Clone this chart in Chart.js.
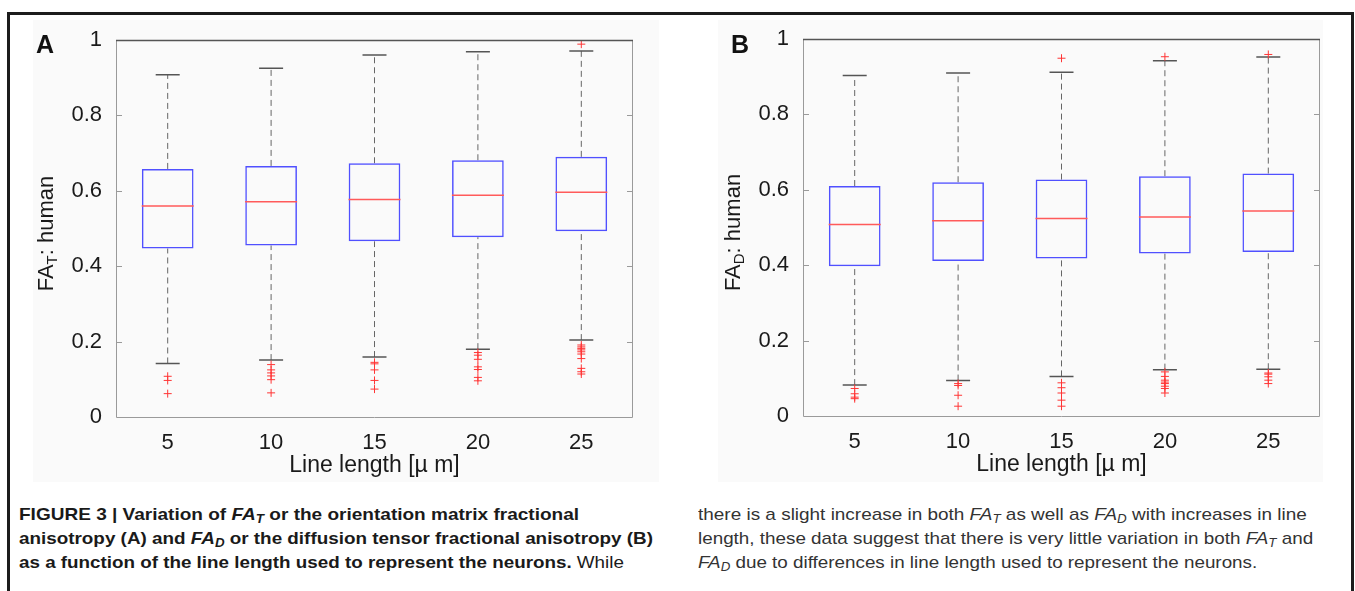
<!DOCTYPE html>
<html>
<head>
<meta charset="utf-8">
<script src="https://cdn.jsdelivr.net/npm/chart.js@4.4.1/dist/chart.umd.min.js"></script>
<style>
body { margin: 0; background: #fff; }
#page { position: relative; width: 1355px; height: 591px; overflow: hidden; font-family: "Liberation Sans", Arial, sans-serif; color: #1a1a1a; }
#frame { position: absolute; left: 7px; top: 12px; width: 1347px; height: 700px; box-sizing: border-box; border: 3px solid #1c1c1c; border-bottom: none; }
.bg { position: absolute; background: #fafafa; }
canvas { position: absolute; }
.panel { position: absolute; font-weight: bold; font-size: 25px; line-height: 25px; color: #111; }
.cap { position: absolute; top: 503px; font-size: 17px; line-height: 24px; }
.ln { white-space: nowrap; width: max-content; transform-origin: 0 0; }
.cap sub { font-size: 12px; vertical-align: -3px; line-height: 0; }
#capR { color: #333; }
</style>
</head>
<body>
<div id="page">
  <div id="frame"></div>
  <div class="bg" style="left:33px;top:20px;width:626px;height:462px"></div>
  <div class="bg" style="left:718px;top:20px;width:605px;height:462px"></div>
  <canvas id="chartA" width="640" height="459" style="left:25px;top:20px"></canvas>
  <canvas id="chartB" width="640" height="459" style="left:712px;top:19px"></canvas>
  <div class="panel" style="left:36px;top:32px">A</div>
  <div class="panel" style="left:731px;top:32px">B</div>
  <div class="cap" id="capL" style="left:19px">
    <div class="ln" data-w="560"><b>FIGURE 3 | Variation of <i>FA<sub>T</sub></i> or the orientation matrix fractional</b></div>
    <div class="ln" data-w="634"><b>anisotropy (A) and <i>FA<sub>D</sub></i> or the diffusion tensor fractional anisotropy (B)</b></div>
    <div class="ln" data-w="605"><b>as a function of the line length used to represent the neurons.</b> While</div>
  </div>
  <div class="cap" id="capR" style="left:698px">
    <div class="ln" data-w="609">there is a slight increase in both <i>FA<sub>T</sub></i> as well as <i>FA<sub>D</sub></i> with increases in line</div>
    <div class="ln" data-w="615">length, these data suggest that there is very little variation in both <i>FA<sub>T</sub></i> and</div>
    <div class="ln" data-w="559"><i>FA<sub>D</sub></i> due to differences in line length used to represent the neurons.</div>
  </div>
</div>
<script>
// line length categories
var labels = ['5', '10', '15', '20', '25'];
var yTickLabels = ['0', '0.2', '0.4', '0.6', '0.8', '1'];
var xTitle = 'Line length [\u00b5 m]';

// panel A: FA_T
var aQ1 = [0.447, 0.455, 0.466, 0.477, 0.493];
var aMed = [0.560, 0.571, 0.577, 0.588, 0.596];
var aQ3 = [0.658, 0.666, 0.673, 0.681, 0.690];
var aHi = [0.908, 0.925, 0.960, 0.969, 0.971];
var aLo = [0.142, 0.151, 0.159, 0.180, 0.204];
var aOut = [
  [0.108, 0.097, 0.062],
  [0.139, 0.125, 0.117, 0.109, 0.099, 0.064],
  [0.145, 0.141, 0.125, 0.097, 0.074],
  [0.171, 0.164, 0.153, 0.133, 0.126, 0.105, 0.096],
  [0.989, 0.191, 0.186, 0.182, 0.178, 0.173, 0.167, 0.155, 0.129, 0.120, 0.114]
];

// panel B: FA_D
var bQ1 = [0.397, 0.411, 0.418, 0.431, 0.435];
var bMed = [0.508, 0.518, 0.524, 0.528, 0.544];
var bQ3 = [0.610, 0.620, 0.627, 0.636, 0.643];
var bHi = [0.903, 0.910, 0.912, 0.942, 0.952];
var bLo = [0.082, 0.094, 0.105, 0.123, 0.124];
var bOut = [
  [0.073, 0.059, 0.050, 0.046],
  [0.086, 0.081, 0.055, 0.026],
  [0.949, 0.088, 0.075, 0.061, 0.042, 0.026],
  [0.953, 0.117, 0.105, 0.095, 0.090, 0.086, 0.079, 0.073, 0.061],
  [0.959, 0.114, 0.111, 0.104, 0.095, 0.086]
];

var fontFam = '"Liberation Sans", Arial, sans-serif';

// box border, inward ticks and the y title with a subscript
var framePlugin = {
  id: 'frame',
  afterDraw: function(chart, args, opts) {
    var ctx = chart.ctx, a = chart.chartArea, ys = chart.scales.y;
    ctx.save();
    ctx.strokeStyle = '#9a9a9a';
    ctx.lineWidth = 1;
    ctx.beginPath();
    ctx.moveTo(a.left + 0.5, a.top);
    ctx.lineTo(a.left + 0.5, a.bottom + 0.5);
    ctx.lineTo(a.right - 0.5, a.bottom + 0.5);
    ctx.lineTo(a.right - 0.5, a.top);
    ys.ticks.forEach(function(t) {
      if (t.value <= 0 || t.value >= 1) return;
      var py = Math.round(ys.getPixelForValue(t.value)) + 0.5;
      ctx.moveTo(a.left, py); ctx.lineTo(a.left + 6, py);
      ctx.moveTo(a.right, py); ctx.lineTo(a.right - 6, py);
    });
    ctx.stroke();
    ctx.strokeStyle = '#555';
    ctx.lineWidth = 1.5;
    ctx.beginPath();
    ctx.moveTo(a.left, a.top + 0.5);
    ctx.lineTo(a.right, a.top + 0.5);
    ctx.stroke();

    // y axis title: FA_x : human
    var big = '22px ' + fontFam, small = '15px ' + fontFam;
    ctx.fillStyle = '#1a1a1a';
    ctx.textBaseline = 'alphabetic';
    ctx.textAlign = 'left';
    ctx.font = big;
    var w1 = ctx.measureText('FA').width;
    var w3 = ctx.measureText(': human').width;
    ctx.font = small;
    var w2 = ctx.measureText(opts.sub).width;
    var total = w1 + w2 + w3;
    ctx.translate(a.left - 63, (a.top + a.bottom) / 2 + 5);
    ctx.rotate(-Math.PI / 2);
    var x0 = -total / 2;
    ctx.font = big;
    ctx.fillText('FA', x0, 0);
    ctx.font = small;
    ctx.fillText(opts.sub, x0 + w1, 4);
    ctx.font = big;
    ctx.fillText(': human', x0 + w1 + w2, 0);
    ctx.restore();
  }
};

function makeBoxplot(id, q1, med, q3, lo, hi, out, sub) {
  var whisk = [];
  labels.forEach(function(l, i) {
    whisk.push({x: l, y: lo[i]}, {x: l, y: q1[i]}, {x: l, y: null});
    whisk.push({x: l, y: q3[i]}, {x: l, y: hi[i]}, {x: l, y: null});
  });
  var pts = [];
  out.forEach(function(list, i) {
    list.forEach(function(v) { pts.push({x: labels[i], y: v}); });
  });

  return new Chart(document.getElementById(id).getContext('2d'), {
    type: 'bar',
    data: {
      labels: labels,
      datasets: [
        {
          type: 'bar',
          data: q1.map(function(v, i) { return [v, q3[i]]; }),
          backgroundColor: 'rgba(0,0,0,0)',
          borderColor: '#5050ff',
          borderWidth: 1.5,
          borderSkipped: false,
          barPercentage: 0.5,
          categoryPercentage: 1,
          order: 4
        },
        {
          type: 'line',
          data: whisk,
          borderColor: '#666',
          borderWidth: 1,
          borderDash: [6, 4],
          pointRadius: 0,
          spanGaps: false,
          order: 5
        },
        {
          type: 'line',
          data: hi,
          showLine: false,
          pointStyle: 'line',
          pointRadius: 12,
          pointBorderColor: '#555',
          pointBorderWidth: 1.5,
          order: 3
        },
        {
          type: 'line',
          data: lo,
          showLine: false,
          pointStyle: 'line',
          pointRadius: 12,
          pointBorderColor: '#555',
          pointBorderWidth: 1.5,
          order: 3
        },
        {
          type: 'line',
          data: med,
          showLine: false,
          pointStyle: 'line',
          pointRadius: 26,
          pointBorderColor: '#ff5a5a',
          pointBorderWidth: 1.5,
          order: 2
        },
        {
          type: 'line',
          data: pts,
          showLine: false,
          pointStyle: 'cross',
          pointRadius: 4,
          pointBorderColor: '#ff3535',
          pointBorderWidth: 1,
          order: 1
        }
      ]
    },
    options: {
      responsive: false,
      animation: false,
      devicePixelRatio: 1,
      events: [],
      layout: { autoPadding: false, padding: { top: 20, right: 32, bottom: 0, left: 0 } },
      plugins: {
        legend: { display: false },
        tooltip: { enabled: false },
        frame: { sub: sub }
      },
      scales: {
        x: {
          grid: { display: false },
          border: { display: false },
          ticks: { color: '#1a1a1a', padding: 5, font: { size: 22, family: fontFam } },
          title: { display: true, text: xTitle, color: '#1a1a1a', padding: { top: 0, bottom: 0 }, font: { size: 23, family: fontFam } },
          afterFit: function(s) { s.height = 62; }
        },
        y: {
          min: 0,
          max: 1,
          grid: { display: false },
          border: { display: false },
          ticks: {
            stepSize: 0.2,
            padding: 6,
            color: '#1a1a1a',
            font: { size: 22, family: fontFam },
            callback: function(v, i) { return yTickLabels[i]; }
          },
          afterFit: function(s) { s.width = 91; }
        }
      }
    },
    plugins: [framePlugin]
  });
}

makeBoxplot('chartA', aQ1, aMed, aQ3, aLo, aHi, aOut, 'T');
makeBoxplot('chartB', bQ1, bMed, bQ3, bLo, bHi, bOut, 'D');

// squeeze caption lines to the narrow type of the original
document.querySelectorAll('.ln').forEach(function(el) {
  var w = +el.getAttribute('data-w');
  var s = w / el.getBoundingClientRect().width;
  el.style.transform = 'scaleX(' + s.toFixed(3) + ')';
});
</script>
</body>
</html>
